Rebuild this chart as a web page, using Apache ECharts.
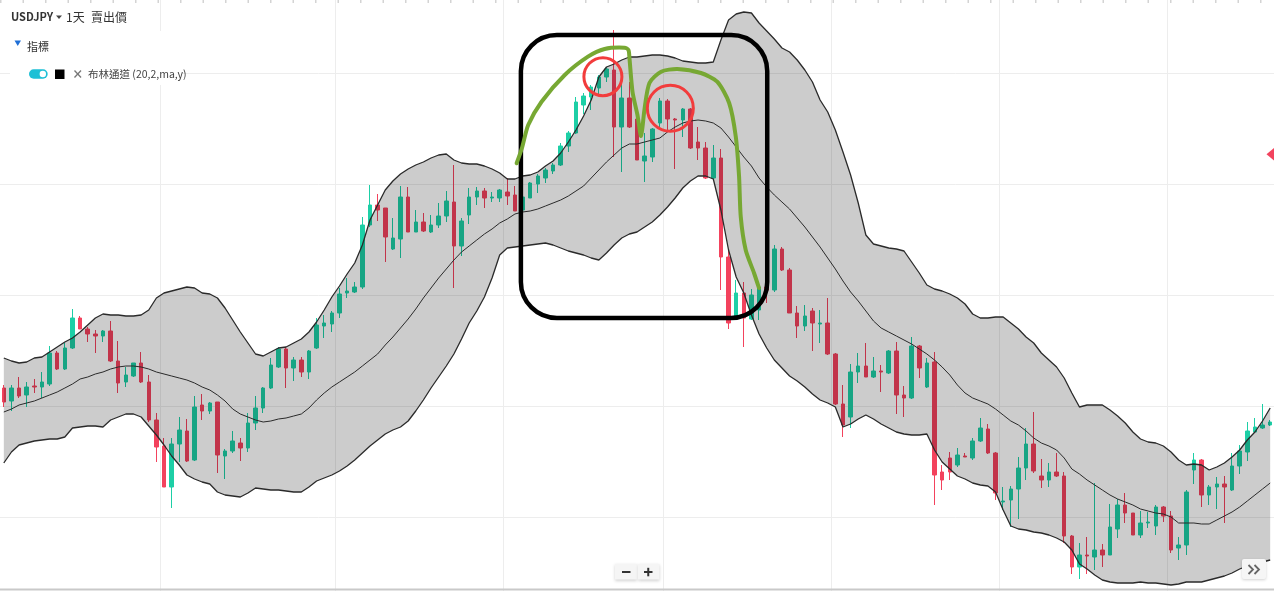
<!DOCTYPE html>
<html><head><meta charset="utf-8">
<script src="https://cdn.jsdelivr.net/npm/echarts/dist/echarts.min.js"></script>
<style>html,body{margin:0;padding:0;background:#fff;overflow:hidden}#c{width:1274px;height:591px}</style>
</head><body><div id="c"></div>
<script>
// ---- candle data (arbitrary price units) ----
const opens = [
212,199,212,205,214,213,216,247,231,252,
282,271,266,264,269,239,218,224,237,218,
180,154,113,156,169,140,195,189,198,144,
149,157,152,177,192,212,233,251,232,240,
228,252,274,276,287,307,308,313,375,395,
392,351,361,403,368,378,368,375,384,398,
354,385,403,409,402,402,408,405,390,402,
416,422,429,435,454,467,495,503,512,523,
530,473,502,481,439,443,477,499,481,480,
491,458,452,422,442,343,283,307,281,290,
313,310,351,330,287,274,289,276,277,246,
196,183,228,234,223,229,227,249,205,202,
254,213,238,128,142,135,144,142,159,171,
147,98,100,111,132,156,124,120,128,124,
64,33,45,43,50,45,71,95,87,65,
77,74,93,84,52,55,130,140,105,113,
116,110,134,148,168,172,175];
const closes = [
198,212,204,213,213,218,247,231,252,282,
271,266,264,269,239,217,225,237,218,180,
153,113,156,170,139,193,189,197,145,149,
159,152,177,192,212,235,251,232,240,228,
249,275,277,287,306,309,313,375,395,390,
363,362,403,368,378,369,375,384,399,354,
379,403,409,402,403,410,404,389,403,417,
424,430,435,454,467,498,504,513,523,531,
473,502,473,440,444,471,499,481,480,491,
452,452,422,442,343,277,307,282,305,313,
310,351,330,287,274,284,277,277,246,196,
175,228,234,223,229,228,249,205,202,254,
232,237,125,120,128,145,143,159,172,147,
107,99,111,132,156,129,120,128,124,64,
33,45,44,50,45,73,95,87,65,77,
78,93,84,50,55,108,140,105,113,116,
113,134,149,169,173,175,178];
const lows = [
193,189,202,193,207,202,214,230,230,251,
271,258,247,258,238,207,213,223,217,178,
138,113,92,138,138,139,180,186,127,121,
147,139,148,170,187,211,232,212,219,223,
221,251,262,268,282,302,307,311,373,379,
338,350,342,368,368,368,367,372,378,312,
344,376,395,392,398,398,395,389,390,402,
407,417,426,434,448,466,486,490,505,518,
443,428,472,440,418,438,473,470,431,463,
451,440,421,420,310,271,280,253,280,280,
297,308,329,287,262,269,249,257,245,195,
163,172,217,223,222,208,226,186,183,201,
222,212,95,110,120,133,143,140,158,146,
100,90,73,81,120,127,112,113,123,57,
26,21,26,30,33,45,62,77,65,62,
72,65,78,47,40,45,116,93,95,91,
77,109,126,139,167,171,174];
const highs = [
215,215,223,218,221,228,254,249,257,291,
284,273,270,270,279,259,233,237,248,225,
187,162,162,183,181,204,206,198,198,151,
169,162,187,204,213,242,253,253,243,243,
250,282,285,289,312,322,318,383,415,406,
392,382,414,413,390,387,385,397,409,435,
382,412,413,412,408,411,422,414,403,418,
426,432,437,457,469,503,507,515,525,533,
570,518,518,483,467,472,502,501,482,492,
492,473,458,455,451,350,320,318,311,317,
320,355,353,332,294,295,292,290,302,247,
215,236,247,257,243,235,250,258,214,263,
255,242,248,135,148,152,147,162,182,176,
148,113,114,143,172,188,141,137,147,128,
65,57,63,117,56,96,101,107,87,89,
88,95,94,89,63,110,147,141,115,123,
124,147,155,178,182,196,180];
// ---- Bollinger band (20,2) lines ----
const upperBand = [
242,239,237,238,242,243,248,253,258,262,
268,275,282,286,285,285,284,284,285,290,
302,307,309,311,313,312,307,306,302,292,
280,268,257,246,244,248,252,253,257,261,
268,278,290,303,314,326,337,355,380,395,
410,419,426,431,435,438,442,445,446,440,
437,436,436,434,431,427,421,421,424,425,
428,434,439,447,458,470,484,500,523,533,
536,540,543,543,544,545,545,544,542,539,
538,537,537,538,560,580,586,588,587,577,
569,561,552,548,540,530,518,500,488,470,
448,425,397,365,356,354,352,351,349,338,
327,315,311,309,306,302,296,286,282,282,
283,283,277,271,263,257,247,240,233,222,
207,193,195,195,195,190,184,177,168,161,
158,157,154,148,140,135,136,135,130,133,
137,143,150,160,168,179,192];
const midBand = [
188,191,195,197,199,202,205,208,212,216,
221,223,226,228,231,233,234,234,233,231,
228,226,224,222,220,217,213,210,205,199,
191,186,183,180,178,179,181,182,184,186,
192,200,207,213,218,223,228,234,240,246,
255,263,272,281,291,302,312,322,331,340,
348,354,360,366,371,377,381,386,388,389,
391,394,397,400,404,409,414,422,430,438,
445,452,456,456,458,460,462,468,473,477,
479,480,479,477,472,463,453,443,434,422,
413,405,398,391,382,373,363,353,342,331,
319,308,299,289,279,272,268,264,260,256,
251,246,240,233,225,215,207,202,199,196,
191,185,179,175,169,162,157,154,150,142,
131,126,120,115,110,105,101,98,95,91,
89,87,86,83,77,77,77,76,76,80,
84,88,93,99,105,111,117];
const lowerBand = [
137,148,155,157,159,160,161,161,163,172,
173,174,174,173,180,183,186,186,183,174,
165,155,144,135,125,121,118,116,108,105,
104,103,107,112,111,110,110,109,108,108,
113,119,122,125,129,134,140,147,154,160,
166,170,173,179,189,200,212,223,234,246,
261,277,289,303,322,345,352,353,354,355,
356,357,355,352,349,347,345,342,340,347,
355,362,366,368,373,378,385,393,402,412,
419,424,424,421,390,350,323,307,285,266,
252,240,232,224,219,213,206,200,197,193,
173,176,181,185,181,176,172,168,166,165,
165,166,150,138,131,124,121,117,115,114,
108,90,74,71,70,68,67,65,62,58,
50,36,31,25,20,18,17,17,17,18,
17,17,16,15,16,18,18,18,20,22,
24,27,31,34,36,38,40];
// horizontal grid levels (price units) and month-start candle indices
const gridLevels = [82.3,193.3,304.7,415.7,526.7];
const monthStarts = [21,44,66,87,109,131,153];
const categories = opens.map((_, i) => 'D' + (i + 1));
// hand-drawn annotations in data space [candle index, price]
const greenPath = [[67.22,436.7],[67.92,452],[68.74,475],[70.49,498.3],[73.53,525],[76.57,543.3],[78.75,551],[81.36,552.3],[81.88,550],[82.01,542],[82.41,508.3],[83.06,485],[83.54,464],[83.97,490],[84.63,517],[86.16,528.3],[88.29,531],[91.38,527],[93.51,518.3],[95.08,497],[95.95,463.3],[96.38,423.3],[96.6,383.3],[97.25,350],[98.34,327],[98.99,312]];
const circleCenters = [[78.53,523.3],[87.37,491.7]];
const boxCorners = [[67.78,565],[100.07,282]];

const candleData = opens.map((o, i) => [o, closes[i], lows[i], highs[i]]);
const bandWidth = upperBand.map((u, i) => u - lowerBand[i]);

const chart = echarts.init(document.getElementById('c'), null, {renderer: 'canvas'});
const FONT = "'Noto Sans CJK TC','Noto Sans',Roboto,sans-serif";
const option = {
  animation: false,
  backgroundColor: '#fff',
  grid: {left: -2, right: -3, top: 0, bottom: 0},
  xAxis: [
    {type: 'category', data: categories, boundaryGap: true,
     axisLine: {show: false}, axisTick: {show: false}, axisLabel: {show: false},
     splitLine: {show: true, interval: (idx) => monthStarts.includes(idx), lineStyle: {color: '#ededed', width: 1}}},
    {type: 'value', min: -0.5, max: 166.5, show: false}
  ],
  yAxis: [{type: 'value', min: 9, max: 600, show: false, splitLine: {show: false}}],
  series: [
    {type: 'candlestick', data: candleData, barWidth: 4, z: 2,
     itemStyle: {color: '#1dcfa6', color0: '#f3425d', borderColor: '#1dcfa6', borderColor0: '#f3425d', borderWidth: 1},
     markLine: {silent: true, symbol: 'none', label: {show: false}, animation: false, z: 1,
       lineStyle: {color: '#ededed', width: 1, type: 'solid'},
       data: gridLevels.map(v => ({yAxis: v}))}},
    {type: 'line', data: lowerBand, stack: 'bb', symbol: 'none', lineStyle: {width: 0, opacity: 0}, z: 3, silent: true},
    {type: 'line', data: bandWidth, stack: 'bb', symbol: 'none', lineStyle: {width: 0, opacity: 0}, z: 3, silent: true,
     areaStyle: {color: 'rgba(0,0,0,0.2)', opacity: 1}},
    {type: 'line', data: upperBand, symbol: 'none', lineStyle: {color: '#2a2a2a', width: 1.3}, z: 4, silent: true},
    {type: 'line', data: midBand, symbol: 'none', lineStyle: {color: '#2a2a2a', width: 1}, z: 4, silent: true},
    {type: 'line', data: lowerBand, symbol: 'none', lineStyle: {color: '#2a2a2a', width: 1.3}, z: 4, silent: true}
  ]
};
chart.setOption(option);

const toPx = p => chart.convertToPixel({xAxisIndex: 1, yAxisIndex: 0}, p);
const gp = greenPath.map(toPx);
const c1 = circleCenters.map(toPx);
const b0 = toPx(boxCorners[0]), b1 = toPx(boxCorners[1]);
const radii = [19, 23];

const ui = [
  {type: 'line', shape: {x1: 0, y1: 1.5, x2: 1274, y2: 1.5}, style: {stroke: '#d4d4d4', lineWidth: 3, lineDash: [1.5, 21]}, z: 10},
  {type: 'line', shape: {x1: 0, y1: 589.5, x2: 1274, y2: 589.5}, style: {stroke: '#c9c9c9', lineWidth: 2}, z: 10},
  {type: 'text', x: 11, y: 17, style: {text: 'USDJPY', font: "bold 11px " + FONT, fill: '#333', textVerticalAlign: 'middle'}, z: 20},
  {type: 'polygon', shape: {points: [[56, 15.5], [62, 15.5], [59, 19]]}, style: {fill: '#444'}, z: 20},
  {type: 'text', x: 66, y: 17, style: {text: '1天', font: "12px " + FONT, fill: '#333', textVerticalAlign: 'middle'}, z: 20},
  {type: 'text', x: 91, y: 17, style: {text: '賣出價', font: "12px " + FONT, fill: '#333', textVerticalAlign: 'middle'}, z: 20},
  {type: 'rect', shape: {x: 10, y: 31, width: 172, height: 54}, style: {fill: '#fff'}, z: 15},
  {type: 'polygon', shape: {points: [[14.5, 40.5], [21, 40.5], [17.75, 46]]}, style: {fill: '#1f6fd6'}, z: 20},
  {type: 'text', x: 27, y: 46.5, style: {text: '指標', font: "11px " + FONT, fill: '#333', textVerticalAlign: 'middle'}, z: 20},
  {type: 'rect', shape: {x: 29, y: 69.3, width: 18.7, height: 9.4, r: 4.7}, style: {fill: '#1ec0d6'}, z: 20},
  {type: 'circle', shape: {cx: 42.8, cy: 74, r: 3.2}, style: {fill: '#fff'}, z: 21},
  {type: 'rect', shape: {x: 55, y: 69.5, width: 9.5, height: 9.5}, style: {fill: '#000'}, z: 20},
  {type: 'line', shape: {x1: 74.5, y1: 70.5, x2: 81, y2: 77.5}, style: {stroke: '#777', lineWidth: 1.3}, z: 20},
  {type: 'line', shape: {x1: 81, y1: 70.5, x2: 74.5, y2: 77.5}, style: {stroke: '#777', lineWidth: 1.3}, z: 20},
  {type: 'text', x: 88, y: 74, style: {text: '布林通道 (20,2,ma,y)', font: "10.5px " + FONT, fill: '#444', textVerticalAlign: 'middle'}, z: 20},
  {type: 'polygon', shape: {points: [[1266.5, 154.3], [1274.5, 147.5], [1274.5, 161]]}, style: {fill: '#f2435e'}, z: 20},
  {type: 'rect', shape: {x: 615, y: 564, width: 22, height: 15.5}, style: {fill: '#f5f5f5', shadowBlur: 3, shadowColor: 'rgba(0,0,0,0.18)', shadowOffsetY: 1}, z: 20},
  {type: 'rect', shape: {x: 637.5, y: 564, width: 22, height: 15.5}, style: {fill: '#f5f5f5', shadowBlur: 3, shadowColor: 'rgba(0,0,0,0.18)', shadowOffsetY: 1}, z: 20},
  {type: 'line', shape: {x1: 622, y1: 572, x2: 630.5, y2: 572}, style: {stroke: '#333', lineWidth: 2}, z: 21},
  {type: 'line', shape: {x1: 644, y1: 572, x2: 652.5, y2: 572}, style: {stroke: '#333', lineWidth: 2}, z: 21},
  {type: 'line', shape: {x1: 648.25, y1: 567.8, x2: 648.25, y2: 576.3}, style: {stroke: '#333', lineWidth: 2}, z: 21},
  {type: 'rect', shape: {x: 1242, y: 559, width: 24, height: 20, r: 2}, style: {fill: '#f6f6f6', shadowBlur: 3, shadowColor: 'rgba(0,0,0,0.18)', shadowOffsetY: 1}, z: 20},
  {type: 'polyline', shape: {points: [[1248.5, 565], [1253, 569.5], [1248.5, 574]]}, style: {stroke: '#666', lineWidth: 1.8, fill: 'none'}, z: 21},
  {type: 'polyline', shape: {points: [[1254.5, 565], [1259, 569.5], [1254.5, 574]]}, style: {stroke: '#666', lineWidth: 1.8, fill: 'none'}, z: 21}
];
const annot = [
  {type: 'rect', shape: {x: b0[0], y: b0[1], width: b1[0] - b0[0], height: b1[1] - b0[1], r: 36},
   style: {fill: 'none', stroke: '#000', lineWidth: 4.5}, z: 30},
  {type: 'polyline', shape: {points: gp, smooth: 0.25},
   style: {stroke: '#77a833', lineWidth: 4, fill: 'none', lineCap: 'round', lineJoin: 'round'}, z: 31},
  {type: 'circle', shape: {cx: c1[0][0], cy: c1[0][1], r: radii[0]}, style: {fill: 'none', stroke: '#f23c3c', lineWidth: 3}, z: 32},
  {type: 'circle', shape: {cx: c1[1][0], cy: c1[1][1], r: radii[1]}, style: {fill: 'none', stroke: '#f23c3c', lineWidth: 3}, z: 32}
];
chart.setOption({graphic: ui.concat(annot)});
</script></body></html>
